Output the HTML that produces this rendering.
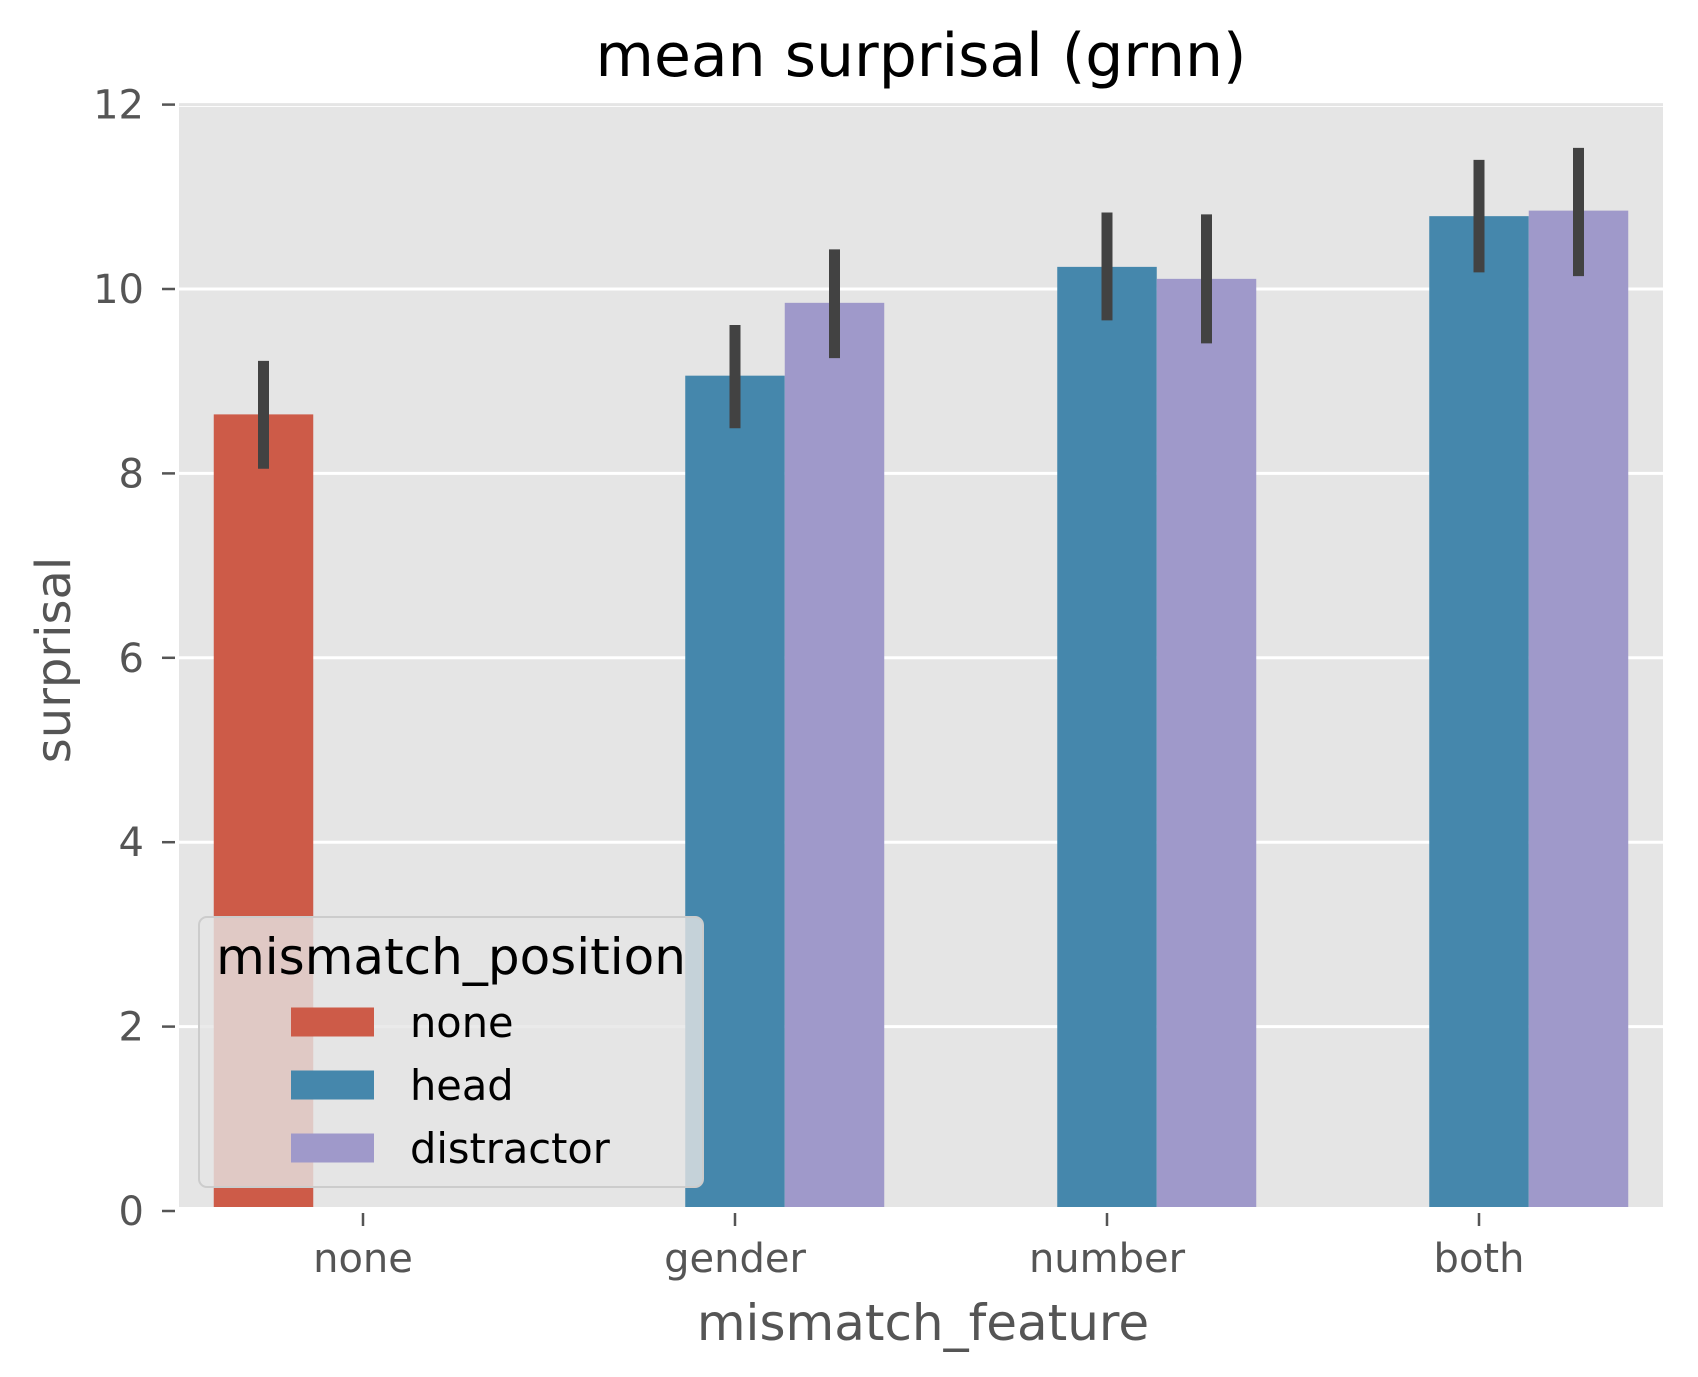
<!DOCTYPE html>
<html><head><meta charset="utf-8"><style>html,body{margin:0;padding:0;background:#fff}svg{display:block}</style></head>
<body>
<svg id="chart" width="1698" height="1377" viewBox="0 0 1698 1377" xmlns="http://www.w3.org/2000/svg" font-family="DejaVu Sans, Liberation Sans, sans-serif">
<rect x="0" y="0" width="1698" height="1377" fill="#ffffff"/>
<rect x="179" y="107" width="1484" height="1100" fill="#e5e5e5"/>
<g id="grid"></g>
<g id="yticks"></g>
<g id="xticks"></g>
<g id="bars"></g>
<g id="errs"></g>
<text x="921" y="76" text-anchor="middle" font-size="60" fill="#000">mean surprisal (grnn)</text>
<text x="923" y="1340" text-anchor="middle" font-size="50" fill="#555">mismatch_feature</text>
<text x="0" y="0" transform="translate(70,660) rotate(-90)" text-anchor="middle" font-size="48" fill="#555">surprisal</text>
<g id="legend">
<rect x="199" y="917" width="504" height="270" rx="8" fill="#e5e5e5" fill-opacity="0.8" stroke="#cccccc" stroke-width="2"/>
<text x="451" y="974" text-anchor="middle" font-size="50" fill="#000">mismatch_position</text>
</g>
</svg>
<script>
const categories = ["none", "gender", "number", "both"];
const hues = ["none", "head", "distractor"];
const hueColors = ["#cd5b48", "#4587ac", "#9f99ca"];
const valuesNone = [8.64, null, null, null];
const valuesHead = [null, 9.06, 10.24, 10.79];
const valuesDistractor = [null, 9.85, 10.11, 10.85];
const ciLowNone = [8.05, null, null, null];
const ciHighNone = [9.22, null, null, null];
const ciLowHead = [null, 8.49, 9.66, 10.18];
const ciHighHead = [null, 9.61, 10.83, 11.40];
const ciLowDistractor = [null, 9.25, 9.41, 10.14];
const ciHighDistractor = [null, 10.43, 10.81, 11.53];
const yTicks = [0, 2, 4, 6, 8, 10, 12];

const NS = "http://www.w3.org/2000/svg";
const yScale = v => 1211 - v * 92.2;
const xScale = i => 363 + i * 372;
const barW = 99.5;
function mk(tag, attrs, parent) { const e = document.createElementNS(NS, tag); for (const k in attrs) e.setAttribute(k, attrs[k]); parent.appendChild(e); return e; }

const grid = document.getElementById('grid');
const yt = document.getElementById('yticks');
yTicks.forEach(v => {
  const y = yScale(v);
  if (v > 0) { const g = mk('line', {x1: 179, x2: 1663, y1: y, y2: y, stroke: v === 12 ? '#e5e5e5' : '#ffffff', 'stroke-width': 3}, grid);
    
     }
  const t = mk('line', {x1: 162, x2: 175, y1: y, y2: y, stroke: '#555', 'stroke-width': 2.5}, yt);
  
  
  const l = mk('text', {x: 144, y: y + 14, 'text-anchor': 'end', 'font-size': 40, fill: '#555'}, yt);
  l.textContent = v;
  
  
});
const xt = document.getElementById('xticks');
categories.forEach((c, i) => {
  const x = xScale(i);
  const t = mk('line', {x1: x, x2: x, y1: 1213, y2: 1226, stroke: '#555', 'stroke-width': 2.5}, xt);
  
  
  const l = mk('text', {x: x, y: 1272, 'text-anchor': 'middle', 'font-size': 40, fill: '#555'}, xt);
  l.textContent = c;
  
  
});
const series = [valuesNone, valuesHead, valuesDistractor];
const lows = [ciLowNone, ciLowHead, ciLowDistractor];
const highs = [ciHighNone, ciHighHead, ciHighDistractor];
const bars = document.getElementById('bars');
const errs = document.getElementById('errs');
series.forEach((vals, h) => {
  vals.forEach((v, i) => {
    if (v === null) return;
    const cx = xScale(i) + (h - 1) * barW;
    const r = mk('rect', {x: cx - barW / 2, y: yScale(v), width: barW, height: yScale(0) - 4 - yScale(v), fill: hueColors[h]}, bars);
    
    
    const e = mk('line', {x1: cx, x2: cx, y1: yScale(highs[h][i]), y2: yScale(lows[h][i]), stroke: '#424242', 'stroke-width': 11}, errs);
    
    
  });
});
const leg = document.getElementById('legend');
hues.forEach((h, k) => {
  const cy = 1022 + k * 63;
  const p = mk('rect', {x: 291, y: cy - 14.5, width: 83, height: 29, fill: hueColors[k]}, leg);
  
  
  const t = mk('text', {x: 410, y: cy + 15, 'font-size': 41.5, fill: '#000'}, leg);
  t.textContent = h;
  
  
});
document.getElementById('chart').appendChild(leg);
</script>
</body></html>
